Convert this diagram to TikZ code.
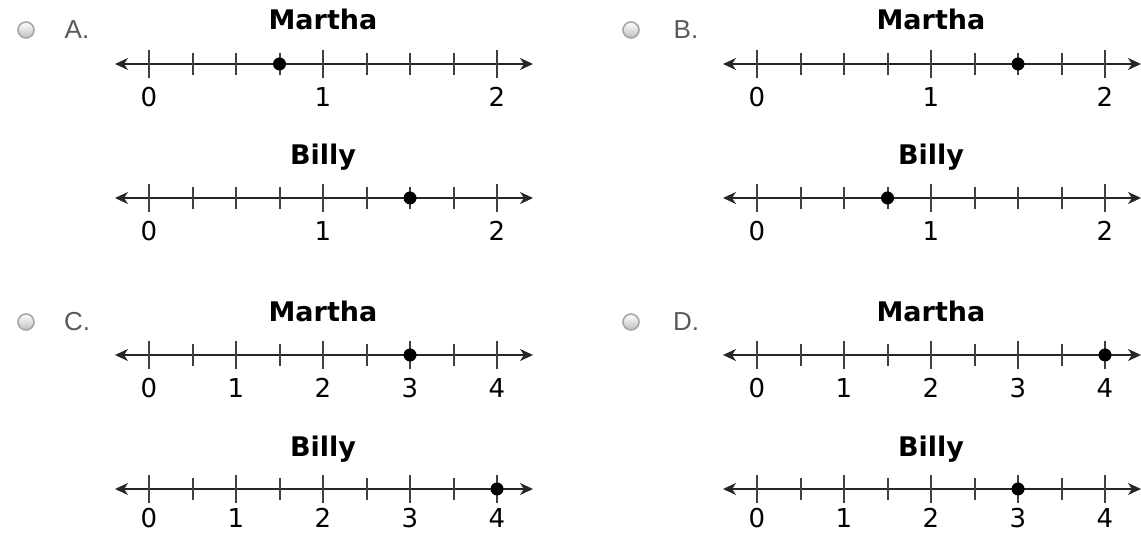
\documentclass[tikz,border=0pt]{standalone}
\usepackage{fontspec}
\setmainfont{DejaVu Sans}
\newfontfamily\optfont{Liberation Sans}
\usetikzlibrary{arrows.meta}

\begin{document}
\begin{tikzpicture}[x=0.5pt,y=-0.5pt,>={Stealth[length=6.5pt,width=6pt,inset=2pt]},
  axis/.style={<->,line width=1pt,black!85},
  major/.style={line width=1pt,black!75},
  minor/.style={line width=1pt,black!75},
  num/.style={inner sep=0pt,font=\fontsize{13}{14}\selectfont},
  title/.style={anchor=base,font=\fontsize{13.5}{15}\selectfont\bfseries},
  opt/.style={font=\fontsize{13}{14}\selectfont\optfont,text=black!65},
  radio/.style={draw=black!35,line width=0.8pt,top color=white,bottom color=black!25}]
\useasboundingbox (0,0) rectangle (1141,533);

% option A
\draw[radio] (26,30) circle (8);
\node[opt] (optA) at (77,30) {A.};
\node[title] (marthaA) at (323,30) {Martha};
\begin{scope}[shift={(149,64)}]
\draw[axis] (-34,0) -- (384,0);
\foreach \i in {1,2,3,5,6,7} \draw[minor] (43.5*\i,-11) -- (43.5*\i,11);
\foreach \i/\v in {0/0,4/1,8/2} {
  \draw[major] (43.5*\i,-14) -- (43.5*\i,14);
  \node[num] (numAm\v) at (43.5*\i,33) {\v};}
\fill (130.5,0) circle (6.5);
\end{scope}
\node[title] (billyA) at (323,165) {Billy};
\begin{scope}[shift={(149,198)}]
\draw[axis] (-34,0) -- (384,0);
\foreach \i in {1,2,3,5,6,7} \draw[minor] (43.5*\i,-11) -- (43.5*\i,11);
\foreach \i/\v in {0/0,4/1,8/2} {
  \draw[major] (43.5*\i,-14) -- (43.5*\i,14);
  \node[num] (numAb\v) at (43.5*\i,33) {\v};}
\fill (261,0) circle (6.5);
\end{scope}

% option B
\draw[radio] (631,30) circle (8);
\node[opt] (optB) at (686,30) {B.};
\node[title] (marthaB) at (931,30) {Martha};
\begin{scope}[shift={(757,64)}]
\draw[axis] (-34,0) -- (384,0);
\foreach \i in {1,2,3,5,6,7} \draw[minor] (43.5*\i,-11) -- (43.5*\i,11);
\foreach \i/\v in {0/0,4/1,8/2} {
  \draw[major] (43.5*\i,-14) -- (43.5*\i,14);
  \node[num] (numBm\v) at (43.5*\i,33) {\v};}
\fill (261,0) circle (6.5);
\end{scope}
\node[title] (billyB) at (931,165) {Billy};
\begin{scope}[shift={(757,198)}]
\draw[axis] (-34,0) -- (384,0);
\foreach \i in {1,2,3,5,6,7} \draw[minor] (43.5*\i,-11) -- (43.5*\i,11);
\foreach \i/\v in {0/0,4/1,8/2} {
  \draw[major] (43.5*\i,-14) -- (43.5*\i,14);
  \node[num] (numBb\v) at (43.5*\i,33) {\v};}
\fill (130.5,0) circle (6.5);
\end{scope}

% option C
\draw[radio] (26,322) circle (8);
\node[opt] (optC) at (77,322) {C.};
\node[title] (marthaC) at (323,322) {Martha};
\begin{scope}[shift={(149,355)}]
\draw[axis] (-34,0) -- (384,0);
\foreach \i in {1,3,5,7} \draw[minor] (43.5*\i,-11) -- (43.5*\i,11);
\foreach \i/\v in {0/0,2/1,4/2,6/3,8/4} {
  \draw[major] (43.5*\i,-14) -- (43.5*\i,14);
  \node[num] (numCm\v) at (43.5*\i,33) {\v};}
\fill (261,0) circle (6.5);
\end{scope}
\node[title] (billyC) at (323,457) {Billy};
\begin{scope}[shift={(149,489)}]
\draw[axis] (-34,0) -- (384,0);
\foreach \i in {1,3,5,7} \draw[minor] (43.5*\i,-11) -- (43.5*\i,11);
\foreach \i/\v in {0/0,2/1,4/2,6/3,8/4} {
  \draw[major] (43.5*\i,-14) -- (43.5*\i,14);
  \node[num] (numCb\v) at (43.5*\i,29) {\v};}
\fill (348,0) circle (6.5);
\end{scope}

% option D
\draw[radio] (631,322) circle (8);
\node[opt] (optD) at (686,322) {D.};
\node[title] (marthaD) at (931,322) {Martha};
\begin{scope}[shift={(757,355)}]
\draw[axis] (-34,0) -- (384,0);
\foreach \i in {1,3,5,7} \draw[minor] (43.5*\i,-11) -- (43.5*\i,11);
\foreach \i/\v in {0/0,2/1,4/2,6/3,8/4} {
  \draw[major] (43.5*\i,-14) -- (43.5*\i,14);
  \node[num] (numDm\v) at (43.5*\i,33) {\v};}
\fill (348,0) circle (6.5);
\end{scope}
\node[title] (billyD) at (931,457) {Billy};
\begin{scope}[shift={(757,489)}]
\draw[axis] (-34,0) -- (384,0);
\foreach \i in {1,3,5,7} \draw[minor] (43.5*\i,-11) -- (43.5*\i,11);
\foreach \i/\v in {0/0,2/1,4/2,6/3,8/4} {
  \draw[major] (43.5*\i,-14) -- (43.5*\i,14);
  \node[num] (numDb\v) at (43.5*\i,29) {\v};}
\fill (261,0) circle (6.5);
\end{scope}
\end{tikzpicture}
\end{document}
